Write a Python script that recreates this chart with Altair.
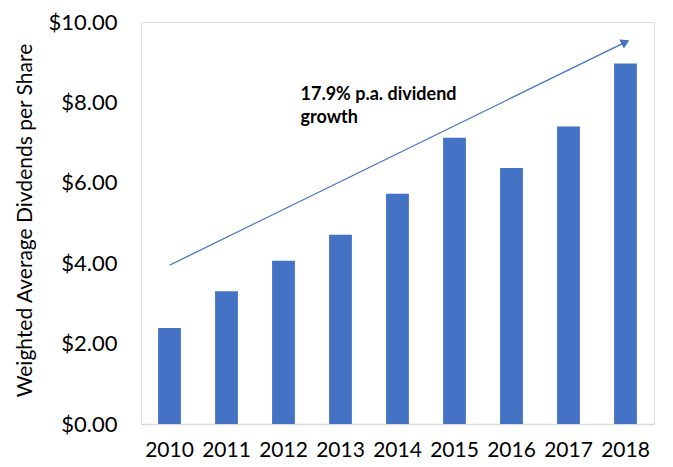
import altair as alt
import pandas as pd

years = ["2010", "2011", "2012", "2013", "2014", "2015", "2016", "2017", "2018"]
dividends = [2.39, 3.30, 4.06, 4.71, 5.73, 7.12, 6.37, 7.40, 8.97]

arrow_years = ["2010", "2018"]
arrow_values = [3.95, 9.50]

note_year = ["2012"]
note_value = [8.06]
note_text = [["17.9% p.a. dividend", "growth"]]

FONT = "Lato"
BLUE = "#4472C4"

bars_df = pd.DataFrame({"year": years, "value": dividends})
arrow_df = pd.DataFrame({"year": arrow_years, "value": arrow_values})
head_df = arrow_df.iloc[[1]]
note_df = pd.DataFrame({"year": note_year, "value": note_value, "text": note_text})

x_enc = alt.X(
    "year:N",
    sort=years,
    title=None,
    scale=alt.Scale(paddingInner=0.6, paddingOuter=0.3),
    axis=alt.Axis(
        labelAngle=0,
        labelFont=FONT,
        labelFontSize=21,
        labelColor="#000000",
        labelPadding=15,
        ticks=False,
        domainColor="#d9d9d9",
        domainWidth=1.5,
        grid=False,
    ),
)
y_scale = alt.Scale(domain=[0, 10], nice=False)

bars = alt.Chart(bars_df).mark_bar(color=BLUE).encode(
    x=x_enc,
    y=alt.Y(
        "value:Q",
        scale=y_scale,
        title="Weighted Average Divdends per Share",
        axis=alt.Axis(
            values=[0, 2, 4, 6, 8, 10],
            format="$.2f",
            labelFont=FONT,
            labelFontSize=22,
            labelColor="#000000",
            labelPadding=24,
            ticks=False,
            domain=False,
            grid=False,
            titleFont=FONT,
            titleFontSize=21,
            titleFontWeight="normal",
            titleColor="#000000",
            titleX=-116,
            titleY=198,
            titleAngle=-90,
            titleAlign="center",
            titleBaseline="middle",
        ),
    ),
)

arrow_line = alt.Chart(arrow_df).mark_line(color=BLUE, strokeWidth=1.3).encode(
    x=alt.X("year:N", sort=years),
    y=alt.Y("value:Q", scale=y_scale),
)

arrow_head = alt.Chart(head_df).mark_point(
    shape="triangle-right", filled=True, color=BLUE, opacity=1, size=100, angle=333.7
).encode(
    x=alt.X("year:N", sort=years),
    y=alt.Y("value:Q", scale=y_scale),
)

note = alt.Chart(note_df).mark_text(
    align="left",
    baseline="alphabetic",
    dx=17,
    font=FONT,
    fontSize=18,
    fontWeight="bold",
    color="#000000",
    lineHeight=23,
).encode(
    x=alt.X("year:N", sort=years),
    y=alt.Y("value:Q", scale=y_scale),
    text="text",
)

chart = (
    alt.layer(bars, arrow_line, arrow_head, note)
    .properties(
        width=513,
        height=402,
        autosize=alt.AutoSizeParams(type="none"),
        padding={"left": 133, "top": 14, "right": 10, "bottom": 35},
    )
    .configure_view(stroke=None)
    .configure(background="#ffffff")
)

chart.save("out.html", embed_options={"renderer": "svg", "actions": False})
